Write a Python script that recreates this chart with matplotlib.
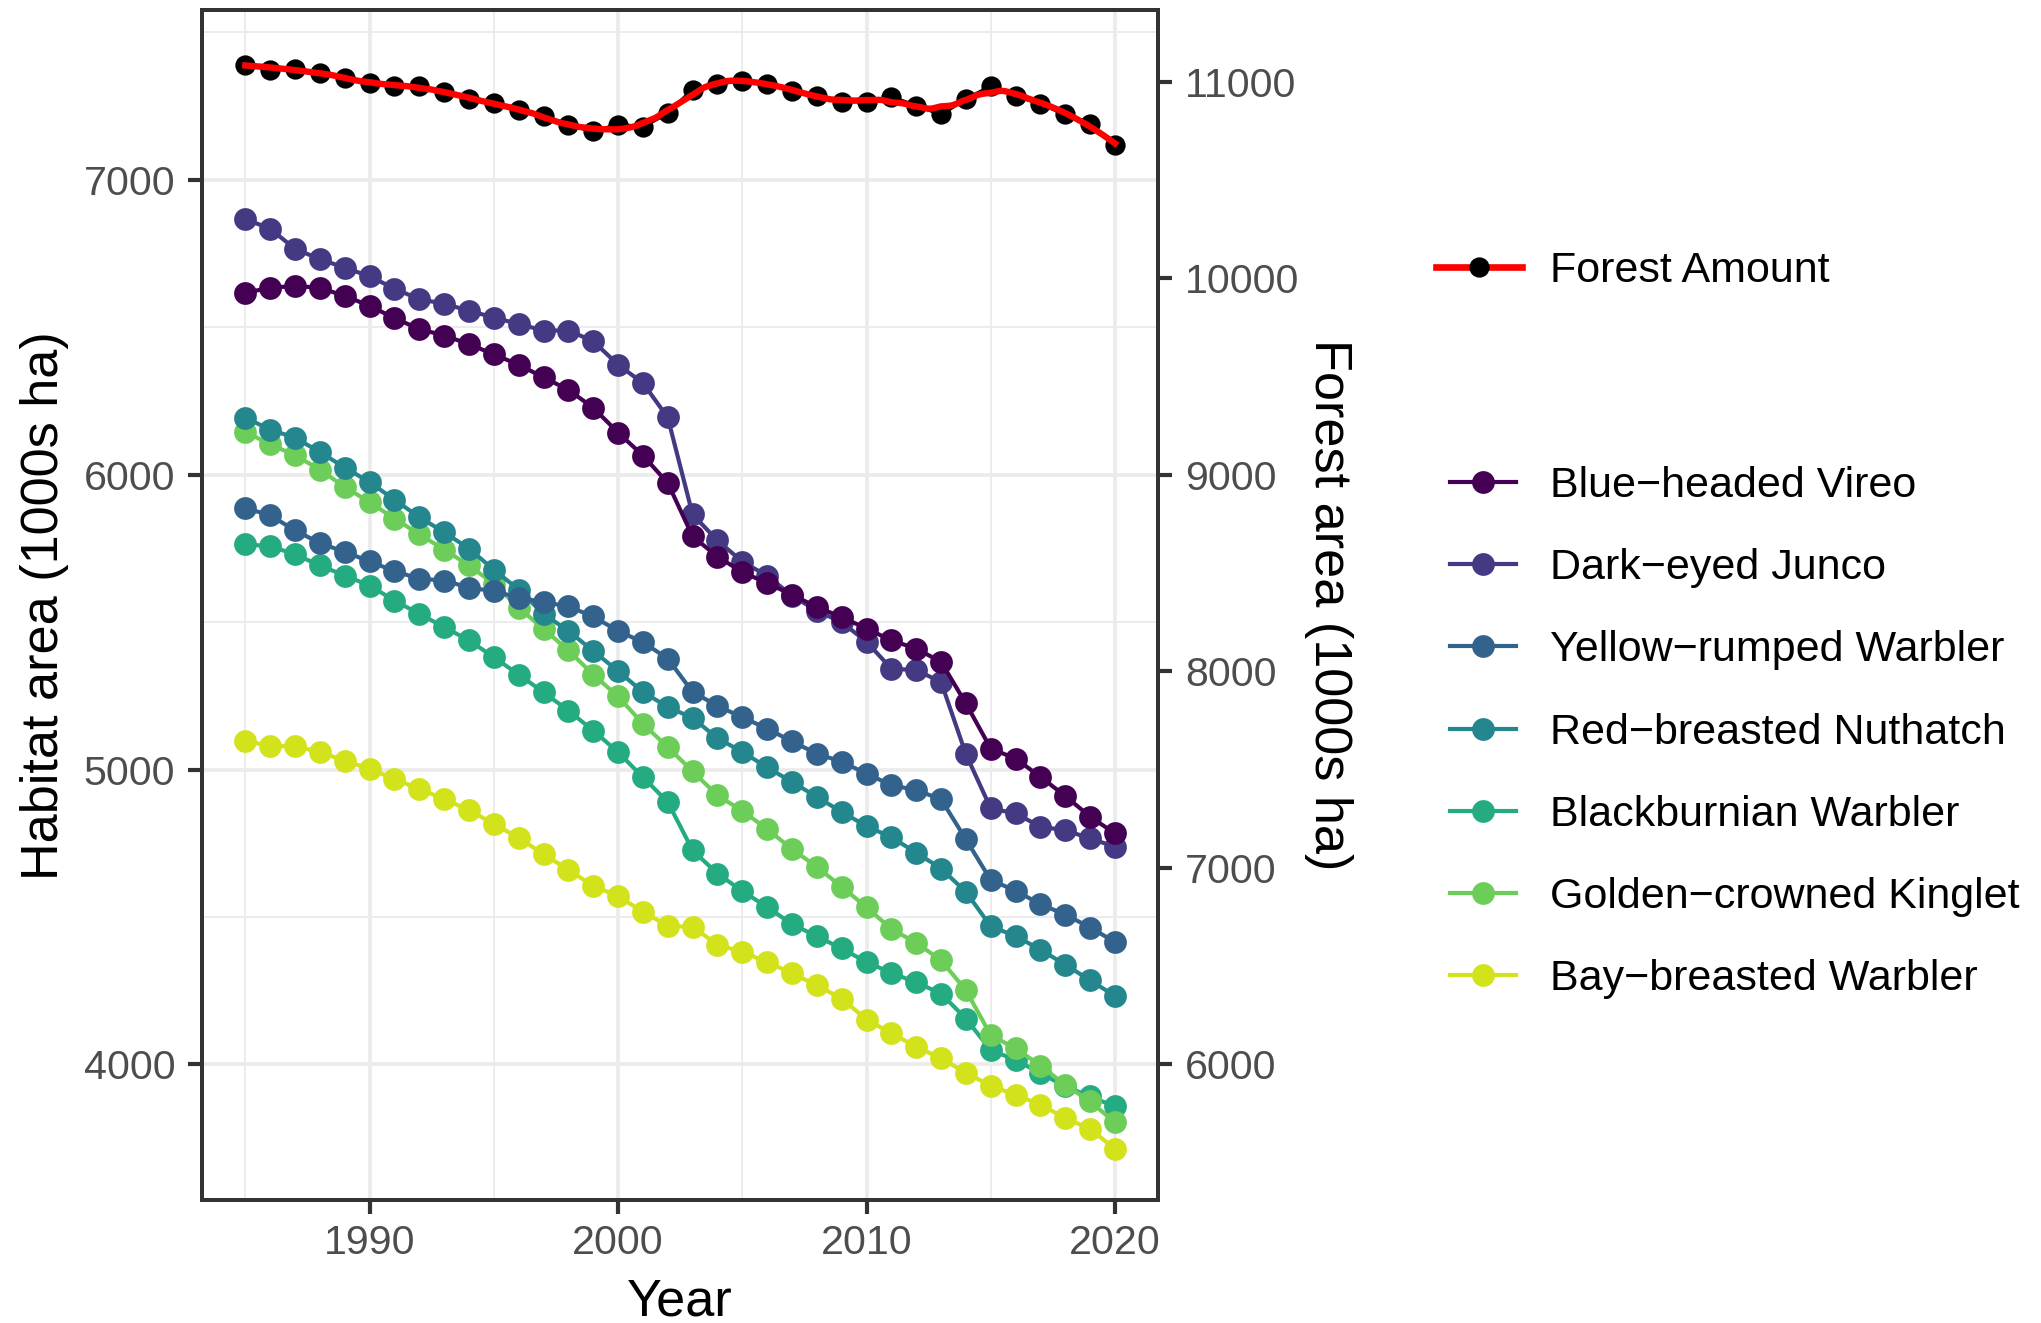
import numpy as np
import matplotlib
matplotlib.use("Agg")
import matplotlib.pyplot as plt
from matplotlib.lines import Line2D

years = np.arange(1985, 2021)

# total forest area, 1000s ha (secondary axis)
forest = [11086, 11061, 11066, 11043, 11018, 10995, 10975, 10979, 10946, 10911,
          10892, 10857, 10824, 10781, 10746, 10781, 10770, 10839, 10959, 10989,
          11004, 10989, 10954, 10927, 10898, 10898, 10921, 10878, 10833, 10911,
          10976, 10927, 10886, 10833, 10785, 10679]

species = ["Blue\u2212headed Vireo", "Dark\u2212eyed Junco", "Yellow\u2212rumped Warbler",
           "Red\u2212breasted Nuthatch", "Blackburnian Warbler",
           "Golden\u2212crowned Kinglet", "Bay\u2212breasted Warbler"]

vireo = [6617, 6634, 6640, 6634, 6606, 6573, 6531, 6494, 6472, 6443,
         6408, 6373, 6330, 6288, 6227, 6143, 6065, 5972, 5791, 5722,
         5670, 5632, 5593, 5551, 5517, 5478, 5438, 5410, 5365, 5224,
         5071, 5037, 4975, 4910, 4840, 4783]
junco = [6867, 6834, 6766, 6731, 6702, 6673, 6631, 6595, 6580, 6556,
         6533, 6511, 6489, 6489, 6453, 6373, 6311, 6194, 5865, 5777,
         5705, 5657, 5590, 5538, 5500, 5433, 5342, 5337, 5297, 5052,
         4868, 4851, 4806, 4794, 4766, 4738]
yrwa = [5887, 5862, 5811, 5768, 5738, 5706, 5673, 5647, 5641, 5617,
        5605, 5583, 5568, 5553, 5519, 5470, 5432, 5376, 5263, 5216,
        5177, 5139, 5095, 5054, 5026, 4986, 4947, 4930, 4899, 4763,
        4625, 4589, 4543, 4508, 4464, 4415]
nuthatch = [6193, 6153, 6125, 6077, 6024, 5975, 5915, 5856, 5805, 5749,
            5678, 5610, 5528, 5470, 5402, 5334, 5263, 5212, 5175, 5106,
            5060, 5007, 4958, 4907, 4856, 4808, 4770, 4718, 4664, 4585,
            4468, 4435, 4389, 4338, 4285, 4232]
blackburnian = [5764, 5757, 5730, 5692, 5658, 5624, 5573, 5528, 5483, 5438,
                5381, 5322, 5262, 5200, 5132, 5059, 4974, 4890, 4726, 4647,
                4588, 4533, 4476, 4434, 4393, 4347, 4310, 4278, 4240, 4155,
                4048, 4015, 3970, 3925, 3891, 3857]
kinglet = [6145, 6103, 6066, 6017, 5958, 5907, 5851, 5798, 5746, 5692,
           5630, 5549, 5477, 5404, 5322, 5248, 5155, 5076, 4994, 4912,
           4860, 4798, 4730, 4670, 4602, 4533, 4459, 4412, 4353, 4251,
           4099, 4054, 3996, 3930, 3874, 3803]
bay = [5098, 5079, 5079, 5059, 5030, 5002, 4968, 4934, 4900, 4862,
       4816, 4768, 4713, 4660, 4605, 4571, 4517, 4470, 4466, 4406,
       4381, 4347, 4309, 4268, 4223, 4152, 4105, 4060, 4020, 3972,
       3927, 3897, 3863, 3818, 3781, 3713]

habitat = [vireo, junco, yrwa, nuthatch, blackburnian, kinglet, bay]
colors = ["#440154", "#443A83", "#33638D", "#24878E", "#25AB82", "#6CCE59", "#D2E21B"]
zorders = [4, 3, 8, 7, 5, 6, 9]

SEC = 1.5  # forest axis = 1.5 x habitat axis


def loess(x, y, xs, span=0.2):
    """Local quadratic fit with tricube weights."""
    x = np.asarray(x, float)
    y = np.asarray(y, float)
    q = int(np.ceil(span * len(x)))
    out = []
    for x0 in xs:
        d = np.abs(x - x0)
        h = np.sort(d)[q - 1] * 1.0001
        w = np.clip(1 - (d / h) ** 3, 0, None) ** 3
        A = np.vander(x - x0, 3)
        sw = np.sqrt(w)
        coef = np.linalg.lstsq(A * sw[:, None], y * sw, rcond=None)[0]
        out.append(coef[-1])
    return np.array(out)


plt.rcParams["font.family"] = ["Liberation Sans", "DejaVu Sans"]

fig = plt.figure(figsize=(10.205, 6.615), dpi=200)
ax = fig.add_axes([0.0989, 0.093, 0.4687, 0.8992])
ax2 = ax.twinx()

for vals, name, c, z in zip(habitat, species, colors, zorders):
    ax.plot(years, vals, "-o", color=c, lw=1.5, ms=7.2, label=name, zorder=z)

ax2.plot(years, forest, "-o", color="black", lw=1.3, ms=6.3, zorder=3)
xs = np.linspace(1985, 2020, 300)
ax2.plot(xs, loess(years, forest, xs), color="red", lw=2.3, zorder=4)

ax.set_xlim(1983.25, 2021.75)
ax.set_ylim(3540, 7575)
ax2.set_ylim(3540 * SEC, 7575 * SEC)

ax.set_xticks([1990, 2000, 2010, 2020])
ax.set_xticks([1985, 1995, 2005, 2015], minor=True)
ax.set_yticks([4000, 5000, 6000, 7000])
ax.set_yticks([4500, 5500, 6500, 7500], minor=True)
ax2.set_yticks([6000, 7000, 8000, 9000, 10000, 11000])

ax.set_axisbelow(True)
ax.grid(which="major", color="#EBEBEB", lw=1.3)
ax.grid(which="minor", color="#EBEBEB", lw=0.65)

for a in (ax, ax2):
    a.tick_params(which="major", length=5, width=1.5, color="#333333",
                  labelsize=14.8, labelcolor="#4D4D4D", pad=4.6)
    a.tick_params(which="minor", length=0)
    for s in a.spines.values():
        s.set_color("#333333")
        s.set_linewidth(1.4)
ax.tick_params(axis="x", pad=3.8)

ax.set_xlabel("Year", fontsize=18.8, labelpad=5.5)
ax.set_ylabel("Habitat area (1000s ha)", fontsize=18.8, labelpad=5.2)
ax2.set_ylabel("Forest area (1000s ha)", fontsize=18.8, rotation=270,
               va="bottom", labelpad=1.5)

# legends
fh = Line2D([], [], color="red", lw=2.4, marker="o", ms=6.3,
            markerfacecolor="black", markeredgecolor="black")
fig.legend(handles=[fh], labels=["Forest Amount"], loc="center left",
           bbox_to_anchor=(0.7035, 0.795), frameon=False, fontsize=15.5,
           borderpad=0, borderaxespad=0, handlelength=2.0, handletextpad=0.65)

sh = [Line2D([], [], color=c, lw=1.5, marker="o", ms=7.2) for c in colors]
fig.legend(handles=sh, labels=species, loc="center left",
           bbox_to_anchor=(0.7104, 0.4462), frameon=False, fontsize=15.5,
           borderpad=0, borderaxespad=0, handlelength=1.53, handletextpad=0.8,
           labelspacing=0.98)

fig.savefig("out.png", dpi=200)
